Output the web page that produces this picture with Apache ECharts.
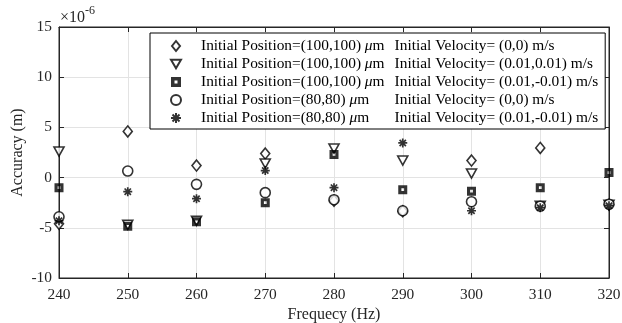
<!DOCTYPE html>
<html>
<head>
<meta charset="utf-8">
<script src="https://cdn.jsdelivr.net/npm/echarts@6/dist/echarts.min.js"></script>
<style>
  html, body { margin: 0; padding: 0; background: #fff; }
  #chart { width: 622px; height: 323px; }
</style>
</head>
<body>
<div id="chart"></div>
<script>
// 频率 (Hz)
const freqs = [240, 250, 260, 270, 280, 290, 300, 310, 320]
// 精度，单位 1e-6 m
const accP100V00 = [-4.6, 4.6, 1.2, 2.4, -2.3, -3.35, 1.7, 2.95, -2.7]
const accP100V11 = [2.6, -4.7, -4.3, 1.4, 2.9, 1.7, 0.4, -2.8, -2.7]
const accP100V1m1 = [-1.0, -4.85, -4.4, -2.5, 2.3, -1.2, -1.35, -1.0, 0.5]
const accP80V00 = [-3.9, 0.65, -0.67, -1.5, -2.2, -3.3, -2.4, -2.85, -2.65]
const accP80V1m1 = [-4.3, -1.4, -2.1, 0.7, -1.0, 3.45, -3.3, -3.0, -2.8]

const xTicks = { min: 240, max: 320, step: 10 }
const yTicks = { min: -10, max: 15, step: 5 }

const seriesNames = ['s1', 's2', 's3', 's4', 's5']
const positions = ['(100,100)', '(100,100)', '(100,100)', '(80,80)', '(80,80)']
const velocities = ['(0,0) m/s', '(0.01,0.01) m/s', '(0.01,-0.01) m/s', '(0,0) m/s', '(0.01,-0.01) m/s']

const serif = '"Liberation Serif", "DejaVu Serif", serif'
const ink = '#262626'
const fs = 15.4

const chart = echarts.init(document.getElementById('chart'))

// 标记形状
const diamond = 'path://M4,0 L8,5 L4,10 L0,5 Z'
const triDown = 'path://M0,0 L10,0 L5,8.7 Z'
const holedSquare = 'path://M0,0 H10 V10 H0 Z M3.5,3.5 V6.5 H6.5 V3.5 Z'
const asterisk = 'path://M0,5 L10,5 M5,0 L5,10 M1.5,1.5 L8.5,8.5 M1.5,8.5 L8.5,1.5'

const hollow = { color: '#fff', borderColor: '#000', borderWidth: 1.6 }

const seriesStyle = [
  { symbol: diamond, symbolSize: [9, 11], itemStyle: hollow },
  { symbol: triDown, symbolSize: [10, 9], itemStyle: hollow },
  { symbol: holedSquare, symbolSize: 9, itemStyle: { color: '#000', borderWidth: 0 } },
  { symbol: 'circle', symbolSize: 10, itemStyle: hollow },
  { symbol: asterisk, symbolSize: 9, itemStyle: { color: '#000', borderColor: '#000', borderWidth: 1.7 } }
]

const dataSets = [accP100V00, accP100V11, accP100V1m1, accP80V00, accP80V1m1]

const option = {
  animation: false,
  backgroundColor: '#fff',
  textStyle: { fontFamily: serif },
  grid: {
    left: 59, right: 13, top: 27, bottom: 45,
    outerBoundsMode: 'none',
    show: true, borderColor: ink, borderWidth: 1, backgroundColor: 'transparent'
  },
  graphic: [{
    type: 'text',
    left: 60, top: 5,
    style: {
      text: '{a|×10}{s|-6}',
      rich: {
        a: { fontFamily: serif, fontSize: 16, fill: ink, padding: [8, 0, 0, 0] },
        s: { fontFamily: serif, fontSize: 12, fill: ink, padding: [0, 0, 6, 0] }
      }
    }
  }],
  legend: {
    orient: 'vertical',
    left: 150, top: 33,
    data: seriesNames.map((n, i) => ({ name: n, icon: seriesStyle[i].symbol })),
    backgroundColor: '#fff',
    borderColor: '#000',
    borderWidth: 1,
    borderRadius: 0,
    padding: [5, 7, 3, 20],
    itemWidth: 10,
    itemHeight: 10,
    itemGap: 2,
    formatter: name => {
      const i = seriesNames.indexOf(name)
      const mStyle = positions[i] === '(100,100)' ? 'm1' : 'm2'
      return '{p|Initial Position=' + positions[i] + ' }{mu|μ}{' + mStyle + '|m}{v|Initial Velocity= ' + velocities[i] + '}'
    },
    textStyle: {
      fontFamily: serif, fontSize: fs, color: '#000', lineHeight: 16,
      rich: {
        p: { fontFamily: serif, fontSize: fs, padding: [0, 0, 0, 15] },
        mu: { fontFamily: serif, fontSize: fs, fontStyle: 'italic' },
        m1: { fontFamily: serif, fontSize: fs, width: 22 },
        m2: { fontFamily: serif, fontSize: fs, width: 22 + fs },
        v: { fontFamily: serif, fontSize: fs }
      }
    }
  },
  xAxis: [{
    type: 'value',
    min: xTicks.min, max: xTicks.max, interval: xTicks.step,
    name: 'Frequecy (Hz)',
    nameLocation: 'middle',
    nameGap: 28,
    nameTextStyle: { fontFamily: serif, fontSize: 16, color: ink },
    axisLine: { onZero: false, lineStyle: { color: ink } },
    axisTick: { inside: true, length: 5, lineStyle: { color: ink } },
    axisLabel: { fontFamily: serif, fontSize: fs, color: ink, margin: 9 },
    splitLine: { show: true, lineStyle: { color: '#e3e3e3' } }
  }, {
    type: 'value', position: 'top',
    min: xTicks.min, max: xTicks.max, interval: xTicks.step,
    axisLine: { show: true, onZero: false, lineStyle: { color: ink } },
    axisTick: { show: true, inside: true, length: 5, lineStyle: { color: ink } },
    axisLabel: { show: false },
    splitLine: { show: false }
  }],
  yAxis: [{
    type: 'value',
    min: yTicks.min, max: yTicks.max, interval: yTicks.step,
    name: 'Accuracy (m)',
    nameLocation: 'middle',
    nameGap: 33,
    nameMoveOverlap: false,
    nameTextStyle: { fontFamily: serif, fontSize: 16, color: ink },
    axisLine: { show: true, onZero: false, lineStyle: { color: ink } },
    axisTick: { show: true, inside: true, length: 5, lineStyle: { color: ink } },
    axisLabel: { fontFamily: serif, fontSize: fs, color: ink, margin: 7 },
    splitLine: { show: true, lineStyle: { color: '#e3e3e3' } }
  }, {
    type: 'value', position: 'right',
    min: yTicks.min, max: yTicks.max, interval: yTicks.step,
    axisLine: { show: true, onZero: false, lineStyle: { color: ink } },
    axisTick: { show: true, inside: true, length: 5, lineStyle: { color: ink } },
    axisLabel: { show: false },
    splitLine: { show: false }
  }],
  series: dataSets.map((vals, i) => Object.assign({
    name: seriesNames[i],
    type: 'scatter',
    xAxisIndex: 0,
    yAxisIndex: 0,
    data: freqs.map((f, j) => [f, vals[j]]),
    z: 3 + i
  }, seriesStyle[i]))
}

chart.setOption(option)
</script>
</body>
</html>
